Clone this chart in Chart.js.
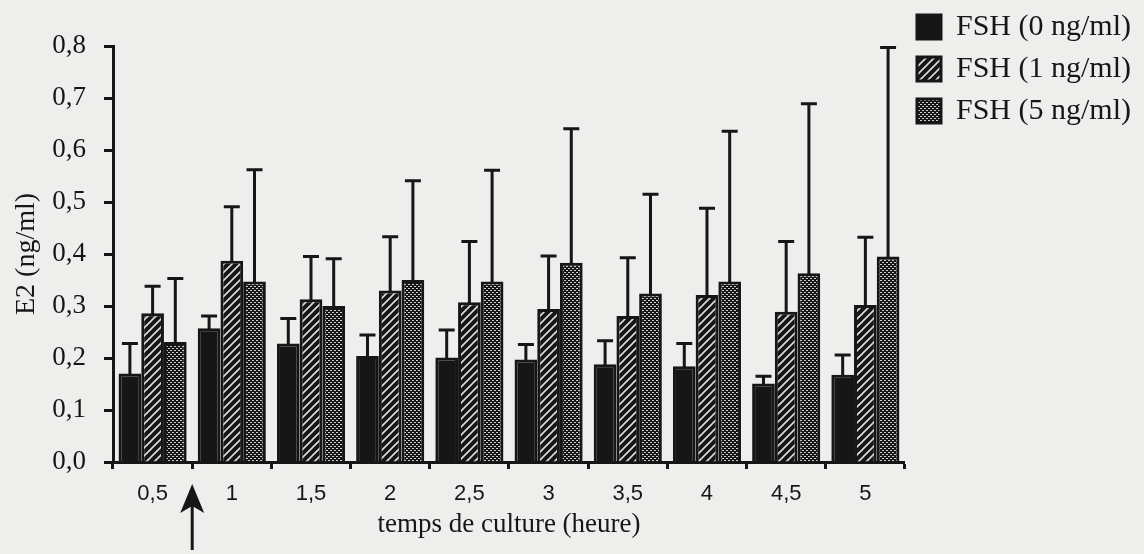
<!DOCTYPE html>
<html>
<head>
<meta charset="utf-8">
<title>E2 - FSH</title>
<script src="https://cdn.jsdelivr.net/npm/chart.js@4.4.1/dist/chart.umd.min.js"></script>
<style>
  html, body { margin: 0; padding: 0; background: #eeeeec; }
  #wrap { width: 1144px; height: 554px; }
</style>
</head>
<body>
<div id="wrap"><canvas id="e2Chart" width="1144" height="554"></canvas></div>
<script>
// Data (mean E2 in ng/ml, upper error bar length)
const hours = ["0,5", "1", "1,5", "2", "2,5", "3", "3,5", "4", "4,5", "5"];
const seriesNames = ["FSH (0 ng/ml)", "FSH (1 ng/ml)", "FSH (5 ng/ml)"];

const fsh0Mean = [0.170, 0.257, 0.228, 0.204, 0.201, 0.197, 0.188, 0.184, 0.151, 0.168];
const fsh0Err  = [0.058, 0.024, 0.048, 0.040, 0.053, 0.029, 0.045, 0.044, 0.014, 0.038];

const fsh1Mean = [0.286, 0.387, 0.313, 0.330, 0.307, 0.294, 0.281, 0.321, 0.289, 0.302];
const fsh1Err  = [0.052, 0.104, 0.082, 0.103, 0.117, 0.102, 0.112, 0.167, 0.135, 0.130];

const fsh5Mean = [0.231, 0.347, 0.300, 0.350, 0.347, 0.383, 0.324, 0.347, 0.363, 0.395];
const fsh5Err  = [0.122, 0.215, 0.091, 0.191, 0.214, 0.258, 0.191, 0.289, 0.326, 0.402];

const INK = "#161616";
const SERIF = "'Liberation Serif', 'Times New Roman', serif";
const SANS = "'Liberation Sans', Arial, sans-serif";

// Fill patterns imitating the old print: plain black, white diagonal hatch, fine dots
function makeHatch() {
  const c = document.createElement("canvas");
  c.width = 8; c.height = 8;
  const g = c.getContext("2d");
  g.fillStyle = INK;
  g.fillRect(0, 0, 8, 8);
  g.strokeStyle = "#dededc";
  g.lineWidth = 1.6;
  g.beginPath();
  g.moveTo(-1, 9); g.lineTo(9, -1);
  g.moveTo(-5, 5); g.lineTo(5, -5);
  g.moveTo(3, 13); g.lineTo(13, 3);
  g.stroke();
  return g.createPattern(c, "repeat");
}

function makeDots() {
  const c = document.createElement("canvas");
  c.width = 4; c.height = 4;
  const g = c.getContext("2d");
  g.fillStyle = INK;
  g.fillRect(0, 0, 4, 4);
  g.fillStyle = "#d0d0ce";
  g.fillRect(0, 0, 2, 1);
  g.fillRect(2, 2, 2, 1);
  return g.createPattern(c, "repeat");
}

const errorsByDataset = [fsh0Err, fsh1Err, fsh5Err];

// Upper error bars centred on each bar
const errorBarsPlugin = {
  id: "errorBars",
  afterDatasetsDraw(chart) {
    const ctx = chart.ctx;
    const yScale = chart.scales.y;
    ctx.save();
    ctx.strokeStyle = INK;
    ctx.lineWidth = 3;
    ctx.lineCap = "butt";
    chart.data.datasets.forEach((ds, di) => {
      const meta = chart.getDatasetMeta(di);
      const errs = errorsByDataset[di];
      meta.data.forEach((bar, i) => {
        const top = yScale.getPixelForValue(ds.data[i] + errs[i]);
        ctx.beginPath();
        ctx.moveTo(bar.x, bar.y + 2);
        ctx.lineTo(bar.x, top);
        ctx.moveTo(bar.x - 8, top);
        ctx.lineTo(bar.x + 8, top);
        ctx.stroke();
      });
    });
    ctx.restore();
  }
};

// Arrow under the axis, between the first two time points
const arrowPlugin = {
  id: "startArrow",
  afterDraw(chart) {
    const ctx = chart.ctx;
    const xs = chart.scales.x;
    const x = (xs.getPixelForValue(0) + xs.getPixelForValue(1)) / 2;
    const tip = chart.chartArea.bottom + 22;
    const tail = chart.chartArea.bottom + 88;
    ctx.save();
    ctx.strokeStyle = INK;
    ctx.fillStyle = INK;
    ctx.lineWidth = 3;
    ctx.beginPath();
    ctx.moveTo(x, tip + 12);
    ctx.lineTo(x, tail);
    ctx.stroke();
    ctx.beginPath();
    ctx.moveTo(x, tip);
    ctx.lineTo(x + 12, tip + 29);
    ctx.lineTo(x, tip + 22);
    ctx.lineTo(x - 12, tip + 29);
    ctx.closePath();
    ctx.fill();
    ctx.restore();
  }
};

const canvas = document.getElementById("e2Chart");
const ctx = canvas.getContext("2d");

new Chart(ctx, {
  type: "bar",
  data: {
    labels: hours,
    datasets: [
      { label: seriesNames[0], data: fsh0Mean, backgroundColor: INK, borderColor: INK, borderWidth: 3 },
      { label: seriesNames[1], data: fsh1Mean, backgroundColor: makeHatch(), borderColor: INK, borderWidth: 3 },
      { label: seriesNames[2], data: fsh5Mean, backgroundColor: makeDots(), borderColor: INK, borderWidth: 3 }
    ]
  },
  options: {
    responsive: false,
    animation: false,
    devicePixelRatio: 1,
    datasets: {
      bar: { categoryPercentage: 0.86, barPercentage: 1.0 }
    },
    layout: { padding: { top: 0, right: 3, bottom: 0, left: 0 } },
    plugins: {
      tooltip: { enabled: false },
      title: {
        display: true,
        text: "",
        fullSize: false,
        font: { size: 10 },
        padding: { top: 34, bottom: 0 }
      },
      legend: {
        position: "right",
        align: "start",
        labels: {
          boxWidth: 24,
          boxHeight: 24,
          padding: 12,
          color: INK,
          font: { family: SERIF, size: 30 }
        }
      }
    },
    scales: {
      x: {
        offset: true,
        grid: {
          display: true,
          offset: true,
          drawOnChartArea: false,
          drawTicks: true,
          tickLength: 7,
          tickWidth: 3,
          tickColor: INK
        },
        border: { display: true, width: 3, color: INK },
        ticks: {
          color: INK,
          padding: 12,
          font: { family: SANS, size: 22 }
        },
        title: {
          display: true,
          text: "temps de culture (heure)",
          color: INK,
          font: { family: SERIF, size: 27 },
          padding: { top: 0, bottom: 13 }
        },
        afterFit(scale) { scale.height = 92; }
      },
      y: {
        min: 0,
        max: 0.8,
        grid: {
          display: true,
          drawOnChartArea: false,
          drawTicks: true,
          tickLength: 9,
          tickWidth: 3,
          tickColor: INK
        },
        border: { display: true, width: 3, color: INK },
        ticks: {
          stepSize: 0.1,
          color: INK,
          padding: 18,
          font: { family: SERIF, size: 27 },
          callback: (v) => v.toFixed(1).replace(".", ",")
        },
        title: {
          display: true,
          text: "E2 (ng/ml)",
          color: INK,
          font: { family: SERIF, size: 28 },
          padding: { top: 10, bottom: 0 }
        },
        afterFit(scale) { scale.width = 113; }
      }
    }
  },
  plugins: [errorBarsPlugin, arrowPlugin]
});
</script>
</body>
</html>
